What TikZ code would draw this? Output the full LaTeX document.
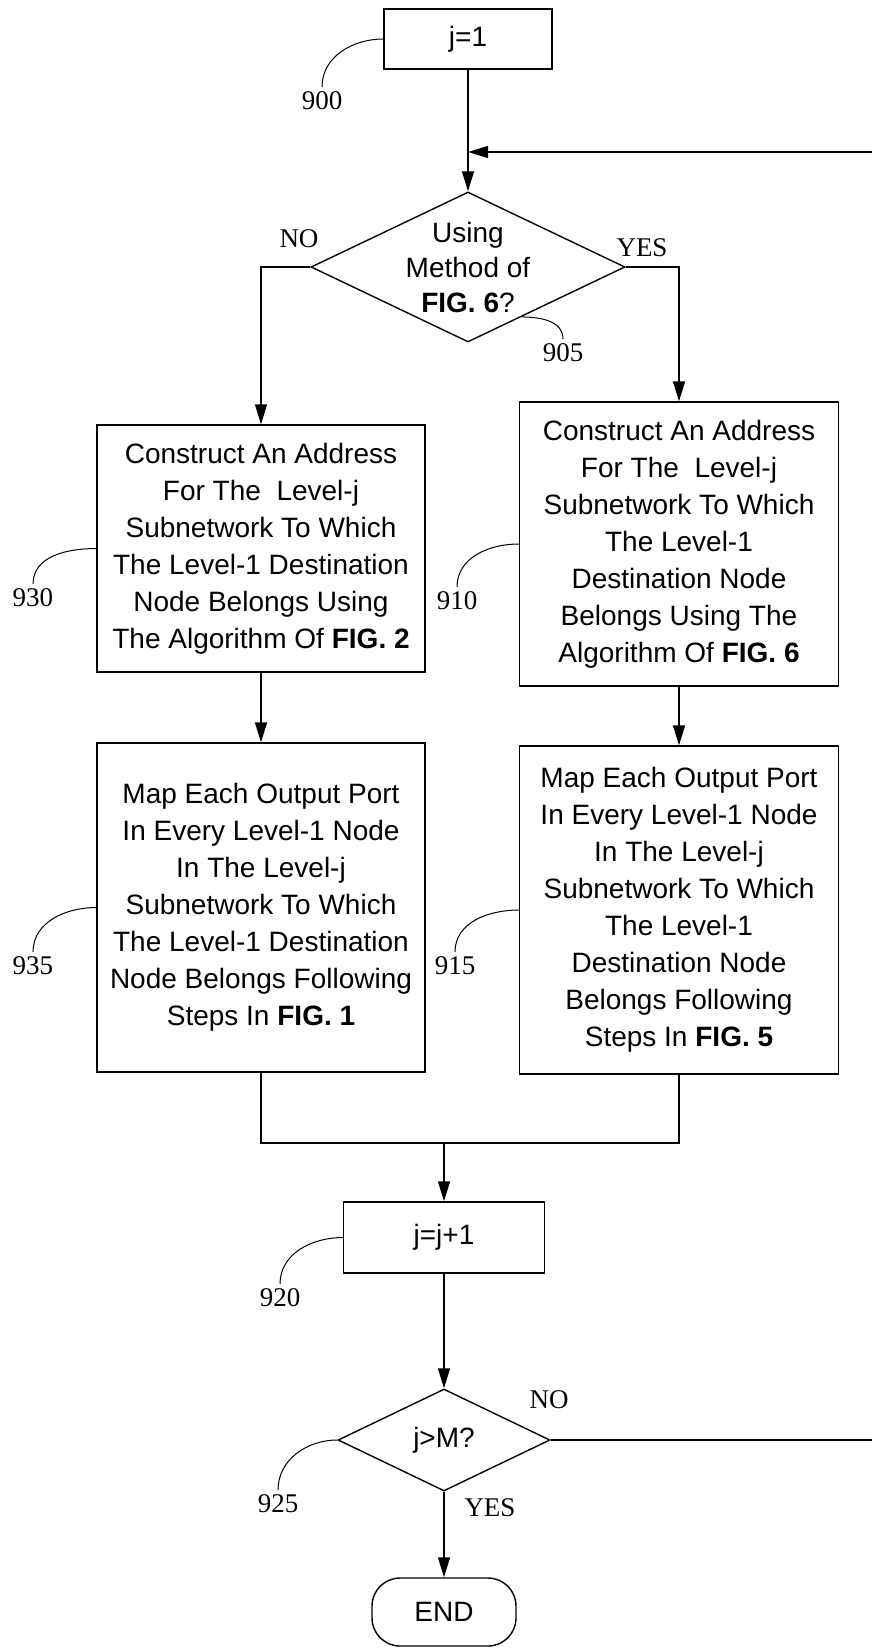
\documentclass[tikz,border=0pt]{standalone}
\usepackage{fontspec}
\setmainfont{Liberation Serif}
\newfontfamily\arialfont{Liberation Sans}
\usetikzlibrary{shapes.geometric, arrows.meta, calc}

\begin{document}
\begin{tikzpicture}[x=0.5pt, y=-0.5pt, line width=0.7pt,
    >={Triangle[length=10pt,width=6pt]},
    box/.style={draw, rectangle, align=center, inner sep=0pt, font=\arialfont\fontsize{14}{18.5}\selectfont},
    decide/.style={draw, diamond, inner sep=0pt, font=\arialfont\fontsize{14}{17.5}\selectfont},
    refnum/.style={font=\fontsize{13.5}{16}\selectfont, inner sep=2pt, anchor=north},
    yesno/.style={font=\fontsize{13.5}{16}\selectfont},
    leader/.style={line width=0.5pt}]
        \useasboundingbox (0,0) rectangle (872,1648);

        \node[box, minimum width=84pt, minimum height=30pt] (b900) at (468,39) {j=1};
        \node[decide, minimum width=157pt, minimum height=75pt,
              label={[align=center, font=\arialfont\fontsize{14}{17.5}\selectfont]center:{Using\\Method of\\\textbf{FIG. 6}?}}] (d905) at (468,267) {};
        \node[box, minimum width=164pt, minimum height=123.5pt] (b930) at (261,548.5)
              {Construct An Address\\For The \ Level-j\\Subnetwork To Which\\The Level-1 Destination\\Node Belongs Using\\The Algorithm Of \textbf{FIG. 2}};
        \node[box, minimum width=159.5pt, minimum height=142pt] (b910) at (679,544)
              {Construct An Address\\For The \ Level-j\\Subnetwork To Which\\The Level-1\\Destination Node\\Belongs Using The\\Algorithm Of \textbf{FIG. 6}};
        \node[box, minimum width=164pt, minimum height=164.5pt] (b935) at (261,907.5)
              {Map Each Output Port\\In Every Level-1 Node\\In The Level-j\\Subnetwork To Which\\The Level-1 Destination\\Node Belongs Following\\Steps In \textbf{FIG. 1}};
        \node[box, minimum width=159.5pt, minimum height=164pt] (b915) at (679,910)
              {Map Each Output Port\\In Every Level-1 Node\\In The Level-j\\Subnetwork To Which\\The Level-1\\Destination Node\\Belongs Following\\Steps In \textbf{FIG. 5}};
        \node[box, minimum width=100.5pt, minimum height=35.5pt] (b920) at (444,1237.5) {j=j+1};
        \node[decide, minimum width=106pt, minimum height=51pt] (d925) at (444,1440) {j>M?};
        \node[box, rounded corners=14pt, minimum width=72pt, minimum height=34pt] (e) at (444,1612) {END};

        % reference numerals
        \node[refnum] (l900) at (322,87) {900};
        \node[refnum] (l905) at (563,339) {905};
        \node[refnum] (l930) at (33,584) {930};
        \node[refnum] (l910) at (457,587) {910};
        \node[refnum] (l935) at (33,952) {935};
        \node[refnum] (l915) at (455,952) {915};
        \node[refnum] (l920) at (280,1284) {920};
        \node[refnum] (l925) at (278,1490) {925};
        \coordinate (p905) at ($(d905.south)!0.34!(d905.east)$);
        \draw[leader] (b900.west) to[out=180, in=90] (l900.north);
        \draw[leader] (p905) to[out=0, in=90] (l905.north);
        \draw[leader] (b930.west) to[out=180, in=90] (l930.north);
        \draw[leader] (b910.west) to[out=180, in=90] (l910.north);
        \draw[leader] (b935.west) to[out=180, in=90] (l935.north);
        \draw[leader] (b915.west) to[out=180, in=90] (l915.north);
        \draw[leader] (b920.west) to[out=180, in=90] (l920.north);
        \draw[leader] (d925.west) to[out=180, in=90] (l925.north);

        \node[yesno] (no1) at (299,239) {NO};
        \node[yesno] (yes1) at (642,248) {YES};
        \node[yesno] (no2) at (549,1400) {NO};
        \node[yesno] (yes2) at (490,1508) {YES};

        % flow lines
        \coordinate (r1) at (872,152);
        \coordinate (m) at (444,1143);
        \coordinate (r2) at (872,1440);
        \draw[->] (b900.south) -- (d905.north);
        \draw[->] (r1) -- (b900.south |- r1);
        \draw[->] (d905.west) -| (b930.north);
        \draw[->] (d905.east) -| (b910.north);
        \draw[->] (b930.south) -- (b935.north);
        \draw[->] (b910.south) -- (b915.north);
        \draw (b935.south) |- (m) -| (b915.south);
        \draw[->] (m) -- (b920.north);
        \draw[->] (b920.south) -- (d925.north);
        \draw (d925.east) -- (r2);
        \draw[->] (d925.south) -- (e.north);
\end{tikzpicture}
\end{document}
